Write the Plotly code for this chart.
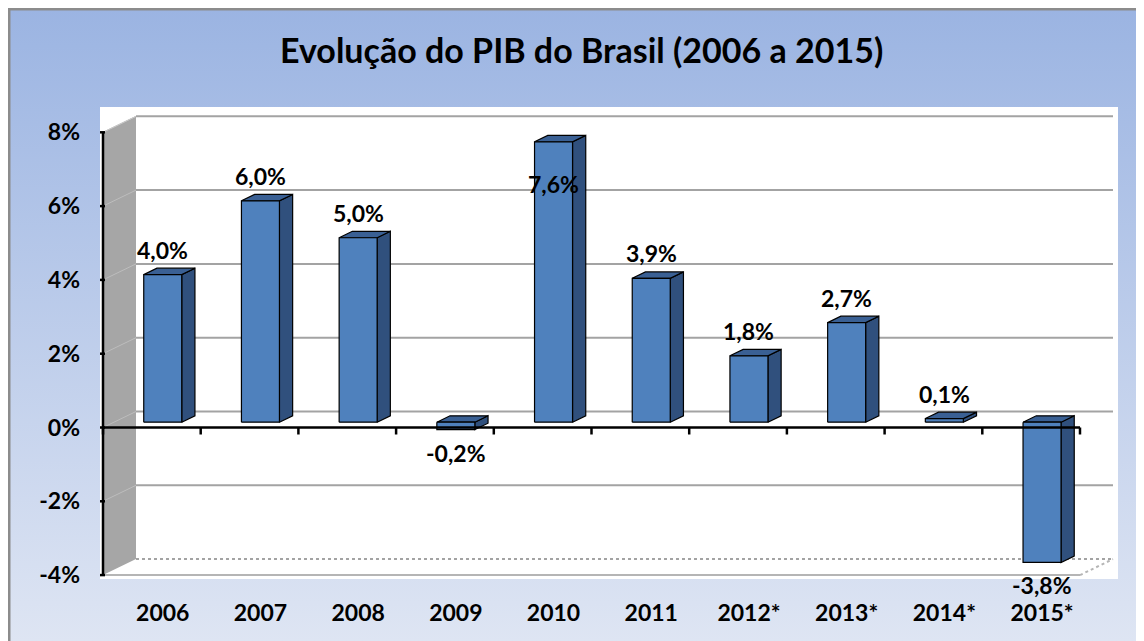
import base64
import plotly.graph_objects as go

# ---------------- data ----------------
categories = ["2006", "2007", "2008", "2009", "2010", "2011", "2012*", "2013*", "2014*", "2015*"]
values = [4.0, 6.0, 5.0, -0.2, 7.6, 3.9, 1.8, 2.7, 0.1, -3.8]
y_ticks = [-4, -2, 0, 2, 4, 6, 8]
y_tick_labels = ["-4%", "-2%", "0%", "2%", "4%", "6%", "8%"]
title_text = "Evolução do PIB do Brasil (2006 a 2015)"

# ---------------- layout geometry ----------------
OFF = 8                      # page margin of the html body
W, H = 1144 - OFF, 641 - OFF
PLOT_L, PLOT_R, PLOT_T, PLOT_B = 100, 1118, 107, 579   # screenshot pixels
ML, MR, MT, MB = PLOT_L - OFF, W - (PLOT_R - OFF), PLOT_T - OFF, H - (PLOT_B - OFF)
PW, PH = W - ML - MR, H - MT - MB
X_RANGE = [-0.5307, 9.889]
Y_RANGE = [-4.106, 8.686]
PPX = PW / (X_RANGE[1] - X_RANGE[0])     # px per category unit
PPY = PH / (Y_RANGE[1] - Y_RANGE[0])     # px per percent

DX = 33 / PPX      # full depth offset (x units)
DY = 16 / PPY      # full depth offset (y units)
D0, D1 = 0.33, 0.73  # bar depth (front/back) as fraction of full depth
BAR_W = 38 / PPX

FONT = "Lato"
FRONT = "#4F81BD"
SIDE = "#30507D"
TOP = "#3A6094"
GRID = "#A3A3A3"
WALL = "#A6A6A6"

n = len(categories)
xmin_c, xmax_c = -0.5, n - 0.5
ymin_v, ymax_v = min(y_ticks), max(y_ticks)

fig = go.Figure()


def px2paper_x(px):
    return (px - OFF - ML) / PW


def px2paper_y(py):
    return (H - MB - (py - OFF)) / PH


# --------- background gradient (paper) ---------
svg = ('<svg xmlns="http://www.w3.org/2000/svg" width="100" height="100" preserveAspectRatio="none">'
       '<defs><linearGradient id="g" x1="0" y1="0" x2="0" y2="1">'
       '<stop offset="0" stop-color="#9BB4E2"/><stop offset="1" stop-color="#DEE5F3"/>'
       '</linearGradient></defs><rect width="100" height="100" fill="url(#g)"/></svg>')
uri = "data:image/svg+xml;base64," + base64.b64encode(svg.encode()).decode()

fig.add_layout_image(dict(source=uri, xref="paper", yref="paper",
                          x=px2paper_x(OFF), y=px2paper_y(OFF),
                          sizex=W / PW, sizey=H / PH,
                          sizing="stretch", layer="below", xanchor="left", yanchor="top"))
shapes = []
# frame border
shapes.append(dict(type="rect", xref="paper", yref="paper",
                   x0=px2paper_x(OFF + 1), y0=px2paper_y(OFF + H + 10),
                   x1=px2paper_x(OFF + W + 10), y1=px2paper_y(OFF + 1),
                   line=dict(color="#8C8C8C", width=3), fillcolor="rgba(0,0,0,0)", layer="below"))
# white plot area
shapes.append(dict(type="rect", xref="paper", yref="paper", x0=0, y0=0, x1=1, y1=1,
                   line=dict(width=0), fillcolor="white", layer="below"))

# --------- left side wall ---------
bx = xmin_c + DX
wall_path = (f"M {xmin_c},{ymin_v} L {xmin_c},{ymax_v} L {bx},{ymax_v + DY} "
             f"L {bx},{ymin_v + DY} Z")
shapes.append(dict(type="path", path=wall_path, xref="x", yref="y",
                   fillcolor=WALL, line=dict(width=0), layer="below"))

# back wall gridlines + side wall gridlines
for t in y_ticks:
    if t == ymin_v:
        continue
    shapes.append(dict(type="line", xref="x", yref="y", x0=bx, y0=t + DY, x1=xmax_c + DX, y1=t + DY,
                       line=dict(color=GRID, width=2), layer="below"))
    shapes.append(dict(type="line", xref="x", yref="y", x0=xmin_c, y0=t, x1=bx, y1=t + DY,
                       line=dict(color="#BDBDBD", width=1), layer="below"))
# floor edges
shapes.append(dict(type="line", xref="x", yref="y", x0=bx, y0=ymin_v + DY, x1=xmax_c + DX, y1=ymin_v + DY,
                   line=dict(color=GRID, width=2, dash="dot"), layer="below"))
shapes.append(dict(type="line", xref="x", yref="y", x0=xmin_c, y0=ymin_v, x1=xmax_c, y1=ymin_v,
                   line=dict(color="#B5B5B5", width=2), layer="below"))
shapes.append(dict(type="line", xref="x", yref="y", x0=xmax_c, y0=ymin_v, x1=xmax_c + DX, y1=ymin_v + DY,
                   line=dict(color="#B5B5B5", width=2, dash="dot"), layer="below"))
# side wall top edge
shapes.append(dict(type="line", xref="x", yref="y", x0=xmin_c, y0=ymax_v, x1=bx, y1=ymax_v + DY,
                   line=dict(color="#C8C8C8", width=1), layer="below"))

# --------- bars (front, side, top faces) ---------
outline = dict(color="black", width=1.2)
dd = D1 - D0
for i, v in enumerate(values):
    xL = i - BAR_W / 2 + D0 * DX
    xR = xL + BAR_W
    yB = D0 * DY
    yT = v + D0 * DY
    yTop = max(yB, yT)
    # side face
    fig.add_trace(go.Scatter(
        x=[xR, xR + dd * DX, xR + dd * DX, xR, xR],
        y=[yB, yB + dd * DY, yT + dd * DY, yT, yB],
        fill="toself", fillcolor=SIDE, mode="lines", line=outline,
        hoverinfo="skip", showlegend=False))
    # top face
    fig.add_trace(go.Scatter(
        x=[xL, xR, xR + dd * DX, xL + dd * DX, xL],
        y=[yTop, yTop, yTop + dd * DY, yTop + dd * DY, yTop],
        fill="toself", fillcolor=TOP, mode="lines", line=outline,
        hoverinfo="skip", showlegend=False))
    # front face
    fig.add_trace(go.Scatter(
        x=[xL, xR, xR, xL, xL],
        y=[yB, yB, yT, yT, yB],
        fill="toself", fillcolor=FRONT, mode="lines", line=outline,
        hoverinfo="text", text=f"{categories[i]}: {v}", showlegend=False))

# --------- axis lines with tick marks ---------
tick_dy = 7 / PPY
ax_x, ax_y = [xmin_c, xmax_c], [0, 0]
for k in range(n + 1):
    ax_x += [None, xmin_c + k, xmin_c + k]
    ax_y += [None, 0, -tick_dy]
fig.add_trace(go.Scatter(x=ax_x, y=ax_y, mode="lines", line=dict(color="black", width=2.5),
                         hoverinfo="skip", showlegend=False))
tick_dx = 8 / PPX
ay_x, ay_y = [xmin_c, xmin_c], [ymin_v, ymax_v]
for t in y_ticks:
    ay_x += [None, xmin_c - tick_dx, xmin_c + 2 / PPX]
    ay_y += [None, t, t]
fig.add_trace(go.Scatter(x=ay_x, y=ay_y, mode="lines", line=dict(color="black", width=2.5),
                         hoverinfo="skip", showlegend=False))

# --------- data labels ---------
annotations = []
GAP = 25
for i, v in enumerate(values):
    xc = i + D0 * DX
    label = f"{v:.1f}".replace(".", ",") + "%"
    yT = v + D0 * DY
    if v >= 0:
        top_px = (Y_RANGE[1] - yT) * PPY
        shift = GAP if top_px - GAP - 12 > 0 else -42
    else:
        shift = -23
    annotations.append(dict(x=xc, y=yT, xref="x", yref="y", text=label, showarrow=False,
                            yshift=shift, yanchor="middle",
                            font=dict(family=FONT, size=23, color="black", weight="bold")))

annotations.append(dict(x=px2paper_x(581), y=px2paper_y(50), xref="paper", yref="paper",
                        text=title_text, showarrow=False, xanchor="center", yanchor="middle",
                        font=dict(family=FONT, size=34, color="black", weight="bold")))

fig.update_layout(
    width=W, height=H,
    margin=dict(l=ML, r=MR, t=MT, b=MB),
    paper_bgcolor="white", plot_bgcolor="rgba(0,0,0,0)",
    shapes=shapes, annotations=annotations, showlegend=False,
    xaxis=dict(range=X_RANGE, showgrid=False, zeroline=False, showline=False,
               tickmode="array", tickvals=[i + D0 * DX for i in range(n)], ticktext=categories,
               ticks="", ticklabelstandoff=18,
               tickfont=dict(family=FONT, size=23, color="black", weight="bold"), fixedrange=True),
    yaxis=dict(range=Y_RANGE, showgrid=False, zeroline=False, showline=False,
               tickmode="array", tickvals=y_ticks, ticktext=y_tick_labels,
               ticks="", ticklabelstandoff=19,
               tickfont=dict(family=FONT, size=23, color="black", weight="bold"), fixedrange=True),
)

fig.write_html("out.html")
